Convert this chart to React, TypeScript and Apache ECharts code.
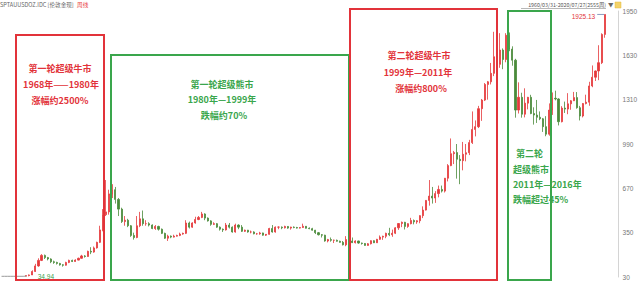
import React, { useEffect, useRef } from 'react';
import * as echarts from 'echarts';

// Quarterly periods 1971Q3 .. 2020Q3 (plus empty room at the right edge)
const firstYear = 1971;
const firstQuarter = 3;
const lastYear = 2020;
const lastQuarter = 3;
const padQuarters = ['2020Q4', '2021Q1', '2021Q2', '2021Q3'];

// early fixed-price period, drawn as a grey line (1971Q3 .. 1973Q3)
const fixedPrice = [35, 35, 35, 35, 35, 35, 35, 35, 36];
const candleStartLabel = '1973Q3';

// quarterly OHLC from 1973Q3 to 2020Q3
const opens = [
  36, 40, 45, 70, 110, 150, 186, 170, 160, 140,
  135, 128, 118, 115, 135, 150, 142, 152, 165, 182,
  178, 215, 210, 240, 280, 370, 480, 500, 630, 660,
  590, 520, 430, 440, 400, 330, 315, 400, 450, 415,
  415, 405, 380, 395, 375, 345, 310, 325, 318, 325,
  330, 340, 345, 420, 390, 420, 445, 460, 485, 455,
  435, 410, 415, 390, 375, 370, 405, 390, 355, 405,
  390, 360, 368, 355, 355, 342, 342, 348, 332, 338,
  380, 355, 390, 390, 385, 395, 383, 390, 387, 383,
  387, 396, 382, 379, 368, 350, 335, 332, 290, 300,
  295, 295, 288, 280, 262, 300, 290, 278, 290, 275,
  272, 258, 270, 292, 277, 302, 318, 324, 345, 335,
  346, 385, 416, 425, 395, 415, 438, 428, 436, 473,
  513, 583, 614, 600, 632, 662, 650, 743, 834, 920,
  928, 880, 870, 916, 927, 1000, 1095, 1115, 1245, 1307,
  1420, 1439, 1500, 1620, 1565, 1668, 1600, 1775, 1675, 1595,
  1235, 1327, 1205, 1285, 1327, 1210, 1199, 1183, 1172, 1115,
  1061, 1235, 1320, 1315, 1151, 1249, 1242, 1280, 1302, 1325,
  1252, 1192, 1282, 1292, 1409, 1472, 1517, 1577, 1781,
];
const closes = [
  40, 45, 70, 110, 150, 186, 170, 160, 140, 135,
  128, 118, 115, 135, 150, 142, 152, 165, 182, 178,
  215, 210, 240, 280, 370, 480, 500, 630, 660, 590,
  520, 430, 440, 400, 330, 315, 400, 450, 415, 415,
  405, 380, 395, 375, 345, 310, 325, 318, 325, 330,
  340, 345, 420, 390, 420, 445, 460, 485, 455, 435,
  410, 415, 390, 375, 370, 405, 390, 355, 405, 390,
  360, 368, 355, 355, 342, 342, 348, 332, 338, 380,
  355, 390, 390, 385, 395, 383, 390, 387, 383, 387,
  396, 382, 379, 368, 350, 335, 332, 290, 300, 295,
  295, 288, 280, 262, 300, 290, 278, 290, 275, 272,
  258, 270, 292, 277, 302, 318, 324, 345, 335, 346,
  385, 416, 425, 395, 415, 438, 428, 436, 473, 513,
  583, 614, 600, 632, 662, 650, 743, 834, 920, 928,
  880, 870, 916, 927, 1000, 1095, 1115, 1245, 1307, 1420,
  1439, 1500, 1620, 1565, 1668, 1600, 1775, 1675, 1595, 1235,
  1327, 1205, 1285, 1327, 1210, 1199, 1183, 1172, 1115, 1061,
  1235, 1320, 1315, 1151, 1249, 1242, 1280, 1302, 1325, 1252,
  1192, 1282, 1292, 1409, 1472, 1517, 1577, 1781, 1925,
];
const lows = [
  35, 34.94, 44, 66, 104, 145, 160, 150, 130, 125,
  120, 112, 105, 112, 130, 138, 140, 150, 162, 170,
  176, 195, 205, 235, 275, 360, 470, 480, 600, 560,
  470, 420, 400, 390, 320, 300, 310, 390, 400, 400,
  395, 375, 370, 365, 340, 305, 290, 310, 315, 322,
  325, 335, 340, 380, 385, 415, 440, 455, 440, 430,
  400, 405, 385, 365, 355, 365, 380, 350, 350, 375,
  355, 355, 350, 345, 338, 335, 335, 328, 326, 335,
  350, 350, 375, 375, 380, 378, 372, 382, 380, 380,
  385, 380, 375, 365, 340, 330, 315, 285, 280, 285,
  275, 285, 278, 258, 252, 285, 275, 272, 270, 264,
  256, 256, 265, 275, 276, 298, 298, 310, 325, 320,
  340, 370, 390, 373, 385, 410, 410, 414, 418, 455,
  510, 545, 560, 565, 605, 640, 640, 720, 830, 845,
  740, 700, 800, 865, 910, 990, 1045, 1105, 1157, 1300,
  1310, 1420, 1480, 1530, 1540, 1530, 1580, 1660, 1555, 1180,
  1210, 1180, 1182, 1240, 1205, 1130, 1142, 1162, 1077, 1046,
  1050, 1200, 1305, 1124, 1146, 1214, 1205, 1237, 1300, 1245,
  1160, 1182, 1276, 1266, 1400, 1445, 1451, 1567, 1757,
];
const highs = [
  42, 48, 78, 125, 165, 195, 192, 175, 165, 148,
  140, 132, 122, 140, 155, 155, 158, 170, 190, 188,
  220, 245, 250, 285, 400, 520, 730, 660, 700, 680,
  600, 530, 470, 450, 405, 350, 470, 500, 510, 440,
  425, 410, 405, 400, 380, 350, 335, 330, 335, 335,
  350, 350, 440, 430, 425, 465, 470, 500, 490, 460,
  440, 425, 420, 395, 380, 420, 420, 395, 415, 410,
  405, 372, 370, 365, 360, 348, 356, 350, 340, 385,
  405, 395, 395, 395, 400, 398, 393, 395, 392, 390,
  415, 398, 388, 385, 370, 355, 340, 335, 305, 315,
  300, 300, 292, 290, 325, 330, 315, 295, 292, 278,
  275, 275, 295, 295, 305, 330, 328, 350, 385, 372,
  390, 418, 430, 428, 418, 457, 445, 440, 476, 540,
  585, 730, 680, 650, 690, 690, 745, 845, 1030, 940,
  990, 910, 1005, 990, 1020, 1225, 1160, 1265, 1315, 1430,
  1445, 1575, 1800, 1790, 1790, 1680, 1790, 1795, 1695, 1605,
  1435, 1360, 1392, 1330, 1345, 1255, 1308, 1225, 1178, 1191,
  1283, 1362, 1375, 1320, 1263, 1296, 1357, 1307, 1366, 1365,
  1265, 1286, 1346, 1439, 1557, 1520, 1703, 1789, 1925.13,
];

const yTicks = [30, 350, 670, 990, 1310, 1630, 1950];

const RED = '#e2333a';
const GREEN = '#3aa64c';
const TEXT_FONT = '"Noto Sans CJK SC", "Noto Sans", sans-serif';
const NUM_FONT = '"Liberation Sans", Arial, sans-serif';

function buildQuarters(): string[] {
  const out: string[] = [];
  for (let y = firstYear; y <= lastYear; y++) {
    for (let q = 1; q <= 4; q++) {
      if (y === firstYear && q < firstQuarter) continue;
      if (y === lastYear && q > lastQuarter) continue;
      out.push(`${y}Q${q}`);
    }
  }
  return out;
}

export default function App() {
  const ref = useRef<HTMLDivElement>(null);

  useEffect(() => {
    document.body.style.margin = '0';
    if (!ref.current) return;
    const chart = echarts.init(ref.current, undefined, { renderer: 'svg' });

    const quarters = buildQuarters();
    const categories = quarters.concat(padQuarters);
    const start = quarters.indexOf(candleStartLabel);

    const candleData: any[] = quarters.map((_, i) => {
      const k = i - start;
      if (k < 0 || k >= opens.length) return ['-', '-', '-', '-'];
      return [opens[k], closes[k], lows[k], highs[k]];
    });
    const greyData: any[] = quarters.map((_, i) => (i < fixedPrice.length ? fixedPrice[i] : '-'));

    let hiK = 0;
    let loK = 0;
    highs.forEach((v, k) => { if (v > highs[hiK]) hiK = k; });
    lows.forEach((v, k) => { if (v < lows[loK]) loK = k; });

    const boxes = [
      { x: 16, y: 35, w: 88, h: 245, c: RED },
      { x: 111, y: 55, w: 238, h: 225, c: GREEN },
      { x: 350, y: 9, w: 147, h: 271, c: RED },
      { x: 508, y: 11, w: 43, h: 269, c: GREEN },
    ];

    const texts = [
      { t: '第一轮超级牛市', x: 60, y: 68, c: RED, a: 'center' },
      { t: '1968年——1980年', x: 61, y: 84, c: RED, a: 'center' },
      { t: '涨幅约2500%', x: 60, y: 100, c: RED, a: 'center' },
      { t: '第一轮超级熊市', x: 222, y: 84, c: GREEN, a: 'center' },
      { t: '1980年—1999年', x: 222, y: 99, c: GREEN, a: 'center' },
      { t: '跌幅约70%', x: 224, y: 115, c: GREEN, a: 'center' },
      { t: '第二轮超级牛市', x: 419, y: 55, c: RED, a: 'center' },
      { t: '1999年—2011年', x: 418, y: 72, c: RED, a: 'center' },
      { t: '涨幅约800%', x: 421, y: 88, c: RED, a: 'center' },
      { t: '第二轮', x: 516, y: 153, c: GREEN, a: 'left' },
      { t: '超级熊市', x: 513, y: 169, c: GREEN, a: 'left' },
      { t: '2011年—2016年', x: 513, y: 184, c: GREEN, a: 'left' },
      { t: '跌幅超过45%', x: 513, y: 199, c: GREEN, a: 'left' },
    ];

    const graphic: any[] = [];
    boxes.forEach((b) => {
      graphic.push({
        type: 'rect',
        silent: true,
        z: 10,
        shape: { x: b.x, y: b.y, width: b.w, height: b.h },
        style: { fill: 'none', stroke: b.c, lineWidth: 2 },
      });
    });
    texts.forEach((t) => {
      graphic.push({
        type: 'text',
        z: 11,
        x: t.x,
        y: t.y,
        style: {
          text: t.t,
          fill: t.c,
          fontSize: 9,
          fontWeight: 'bold',
          fontFamily: TEXT_FONT,
          align: t.a,
          verticalAlign: 'middle',
        },
      });
    });
    graphic.push(
      {
        type: 'text', x: 0, y: 5,
        style: {
          text: '{a|SPTAUUSDOZ.IDC [伦敦金现]} {b|周线}',
          verticalAlign: 'middle',
          rich: {
            a: { fill: '#666', fontSize: 5.6, fontFamily: TEXT_FONT },
            b: { fill: '#e8393b', fontSize: 5.6, fontFamily: TEXT_FONT },
          },
        },
      },
      {
        type: 'text', x: 606, y: 5,
        style: { text: '1960/03/31-2020/07/27(2555周)', fill: '#555', fontSize: 5.3, fontFamily: TEXT_FONT, align: 'right', verticalAlign: 'middle' },
      },
      { type: 'line', shape: { x1: 521, y1: 8.5, x2: 606, y2: 8.5 }, style: { stroke: '#888', lineWidth: 0.6 } },
      {
        type: 'text', x: 608, y: 5,
        style: { text: '▼', fill: '#666', fontSize: 5.5, fontFamily: TEXT_FONT, verticalAlign: 'middle' },
      },
      { type: 'rect', shape: { x: 615, y: 2, width: 6, height: 6 }, style: { fill: '#f3d36a', stroke: '#e0b840', lineWidth: 0.5 } }
    );

    const option: any = {
      animation: false,
      grid: { left: 0, right: 17, top: 11, bottom: 6 },
      xAxis: {
        type: 'category',
        data: categories,
        show: false,
        boundaryGap: true,
      },
      yAxis: {
        type: 'value',
        position: 'right',
        min: yTicks[0],
        max: yTicks[yTicks.length - 1],
        interval: yTicks[1] - yTicks[0],
        splitLine: { show: false },
        axisLine: { show: true, lineStyle: { color: '#d4d4d4', width: 1 } },
        axisTick: { show: false },
        axisLabel: {
          color: '#777',
          fontSize: 6.5,
          margin: 4,
          fontFamily: NUM_FONT,
          formatter: (v: number) => String(v),
        },
      },
      series: [
        {
          type: 'line',
          data: greyData,
          symbol: 'none',
          silent: true,
          lineStyle: { color: '#9a9a9a', width: 1 },
        },
        {
          type: 'candlestick',
          data: candleData,
          barWidth: 1.6,
          itemStyle: {
            color: '#e5383b',
            color0: '#4a8a3a',
            borderColor: '#e5383b',
            borderColor0: '#4a8a3a',
            borderWidth: 0.8,
          },
          markPoint: {
            silent: true,
            animation: false,
            data: [
              {
                coord: [quarters[start + hiK], highs[hiK]],
                symbol: 'rect',
                symbolSize: [7, 1],
                symbolOffset: [-4, 0],
                itemStyle: { color: '#8a9cc0' },
                label: {
                  show: true,
                  position: 'left',
                  distance: 2,
                  formatter: String(highs[hiK]),
                  color: '#e2333a',
                  fontSize: 6.5,
                  fontFamily: NUM_FONT,
                  offset: [0, 2],
                },
              },
              {
                coord: [quarters[start + loK], lows[loK]],
                symbol: 'rect',
                symbolSize: [1, 1],
                itemStyle: { color: 'rgba(0,0,0,0)' },
                label: {
                  show: true,
                  position: 'right',
                  distance: 8,
                  formatter: String(lows[loK]),
                  color: '#3aa04a',
                  fontSize: 6.5,
                  fontFamily: NUM_FONT,
                },
              },
            ],
          },
        },
      ],
      graphic,
    };

    chart.setOption(option);
    return () => chart.dispose();
  }, []);

  return <div ref={ref} style={{ width: 640, height: 283 }} />;
}
